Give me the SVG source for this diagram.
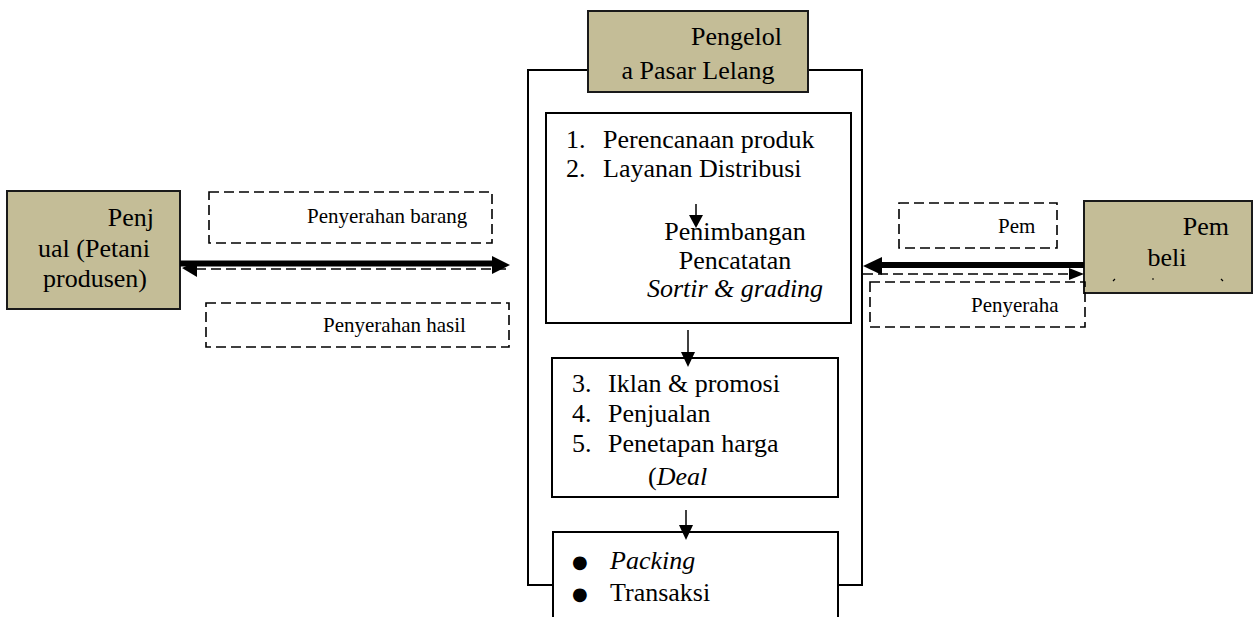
<svg xmlns="http://www.w3.org/2000/svg" width="1254" height="617" viewBox="0 0 1254 617">
<style>
.tan{fill:#c4bd97;stroke:#1a1a1a;stroke-width:2}
.box{fill:#fff;stroke:#000;stroke-width:2}
.dash{fill:none;stroke:#000;stroke-width:1.6;stroke-dasharray:10 5}
.thick{stroke:#000;stroke-width:6}
.thin{stroke:#000;stroke-width:1.5}
</style>
<rect width="1254" height="617" fill="#fff"/>
<g id="frame">
<rect x="528" y="70" width="334" height="515" fill="none" stroke="#000" stroke-width="2"/>
</g>
<g id="pengelola" font-family="'Times New Roman', 'Liberation Serif', serif" font-size="26px">
<rect class="tan" x="588" y="11" width="220" height="81"/>
<text x="782" y="45" text-anchor="end">Pengelol</text>
<text x="698" y="79" text-anchor="middle">a Pasar Lelang</text>
</g>
<g id="box1" font-family="'Times New Roman', 'Liberation Serif', serif" font-size="26px">
<rect class="box" x="546" y="113" width="305" height="210"/>
<text x="566" y="148">1.</text>
<text x="603" y="148">Perencanaan produk</text>
<text x="566" y="177">2.</text>
<text x="603" y="177">Layanan Distribusi</text>
<text x="735" y="240" text-anchor="middle">Penimbangan</text>
<text x="735" y="269" text-anchor="middle">Pencatatan</text>
<text font-style="italic" x="735" y="297" text-anchor="middle">Sortir &amp; grading</text>
</g>
<g id="box2" font-family="'Times New Roman', 'Liberation Serif', serif" font-size="26px">
<rect class="box" x="552" y="358" width="286" height="139"/>
<text x="572" y="392">3.</text>
<text x="608" y="392">Iklan &amp; promosi</text>
<text x="572" y="422">4.</text>
<text x="608" y="422">Penjualan</text>
<text x="572" y="452">5.</text>
<text x="608" y="452">Penetapan harga</text>
<text x="648" y="485">(<tspan font-style="italic">Deal</tspan></text>
</g>
<g id="box3" font-family="'Times New Roman', 'Liberation Serif', serif" font-size="26px">
<rect class="box" x="553" y="532" width="285" height="110"/>
<text font-family="DejaVu Sans, sans-serif" font-size="18" x="572" y="568">●</text>
<text font-style="italic" x="610" y="569">Packing</text>
<text font-family="DejaVu Sans, sans-serif" font-size="18" x="572" y="600">●</text>
<text x="610" y="601">Transaksi</text>
</g>
<g id="penjual" font-family="'Times New Roman', 'Liberation Serif', serif" font-size="26px">
<rect class="tan" x="7" y="191" width="173" height="118"/>
<text x="154" y="226" text-anchor="end">Penj</text>
<text x="94" y="257" text-anchor="middle">ual (Petani</text>
<text x="95" y="287" text-anchor="middle">produsen)</text>
</g>
<g id="pembeli" font-family="'Times New Roman', 'Liberation Serif', serif" font-size="26px">
<rect class="tan" x="1084" y="201" width="168" height="92"/>
<text x="1229" y="235" text-anchor="end">Pem</text>
<text x="1167" y="266" text-anchor="middle">beli</text>
<path d="M1113,281 l2,-2 M1152,279 l2,0 M1221,279 l2,2" stroke="#000" stroke-width="1.2" fill="none"/>
</g>
<g id="label-barang" font-family="'Times New Roman', 'Liberation Serif', serif" font-size="21px">
<rect class="dash" x="209" y="192" width="283" height="51"/>
<text x="307" y="223">Penyerahan barang</text>
</g>
<g id="label-hasil" font-family="'Times New Roman', 'Liberation Serif', serif" font-size="21px">
<rect class="dash" x="206" y="303" width="303" height="44"/>
<text x="323" y="332">Penyerahan hasil</text>
</g>
<g id="label-pem" font-family="'Times New Roman', 'Liberation Serif', serif" font-size="21px">
<rect class="dash" x="899" y="203" width="158" height="45"/>
<text x="998" y="233">Pem</text>
</g>
<g id="label-penyeraha" font-family="'Times New Roman', 'Liberation Serif', serif" font-size="21px">
<rect class="dash" x="870" y="282" width="215" height="45"/>
<text x="971" y="312">Penyeraha</text>
</g>
<g id="connectors">
<line class="thick" x1="180" y1="263.5" x2="494" y2="263.5"/>
<polygon points="492,256 510,265 492,274"/>
<line class="dash" x1="196" y1="269" x2="510" y2="269"/>
<polygon points="182,268 197,261 197,277"/>
<line class="thick" x1="880" y1="265" x2="1084" y2="265"/>
<polygon points="863,266 882,257 882,275"/>
<line class="dash" x1="863" y1="274" x2="1070" y2="274"/>
<polygon points="1069,268 1084,274 1069,280"/>
<line class="thin" x1="696" y1="204" x2="696" y2="216"/>
<polygon points="689,215 703,215 696,228"/>
<line class="thin" x1="688" y1="330" x2="688" y2="353"/>
<polygon points="681,352 695,352 688,367"/>
<line class="thin" x1="686" y1="510" x2="686" y2="526"/>
<polygon points="679,525 693,525 686,540"/>
</g>
</svg>
